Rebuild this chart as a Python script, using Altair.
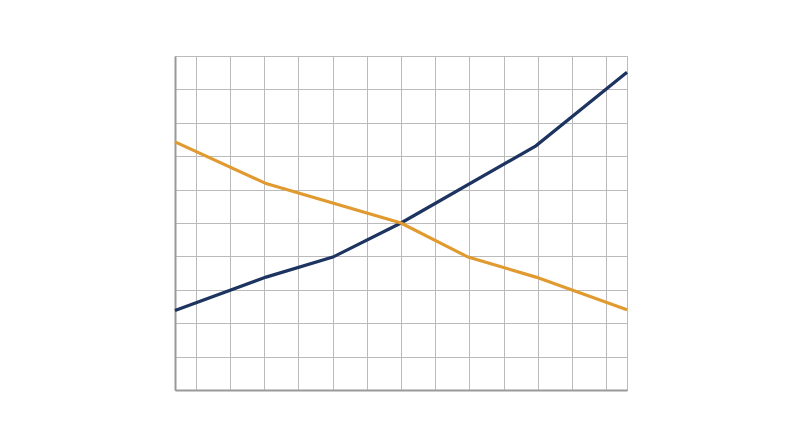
import altair as alt
import pandas as pd

# Series (x in grid units, y in grid units)
navy_x = [-0.6, 2.06, 4.01, 6.0, 9.94, 12.6]
navy_y = [2.38, 3.38, 3.98, 5.0, 7.31, 9.51]
orange_x = [-0.6, 2.06, 6.0, 7.96, 9.94, 12.6]
orange_y = [7.43, 6.18, 5.0, 3.98, 3.38, 2.40]
series_names = ["A", "B"]
series_colors = ["#1d3461", "#e09a2f"]
x_ticks = list(range(0, 13))
y_ticks = list(range(0, 11))

rows = []
for x, y in zip(navy_x, navy_y):
    rows.append({"series": "A", "x": x, "y": y})
for x, y in zip(orange_x, orange_y):
    rows.append({"series": "B", "x": x, "y": y})
df = pd.DataFrame(rows)

chart = alt.Chart(df).mark_line(strokeWidth=3.2).encode(
    x=alt.X("x:Q", scale=alt.Scale(domain=[-0.6, 12.6], nice=False, zero=False),
            axis=alt.Axis(values=x_ticks, labels=False, ticks=False, title=None,
                          domainColor="#999999", domainWidth=2,
                          gridColor="#bbbbbb", gridWidth=1)),
    y=alt.Y("y:Q", scale=alt.Scale(domain=[0, 10], nice=False),
            axis=alt.Axis(values=y_ticks, labels=False, ticks=False, title=None,
                          domainColor="#999999", domainWidth=2,
                          gridColor="#bbbbbb", gridWidth=1)),
    color=alt.Color("series:N", scale=alt.Scale(domain=series_names, range=series_colors), legend=None),
).properties(
    width=452, height=334,
    padding={"left": 160, "top": 48, "right": 5, "bottom": 5},
).configure_view(stroke="#bbbbbb", strokeWidth=1)

chart.save("out.html", embed_options={"renderer": "svg", "actions": False})
